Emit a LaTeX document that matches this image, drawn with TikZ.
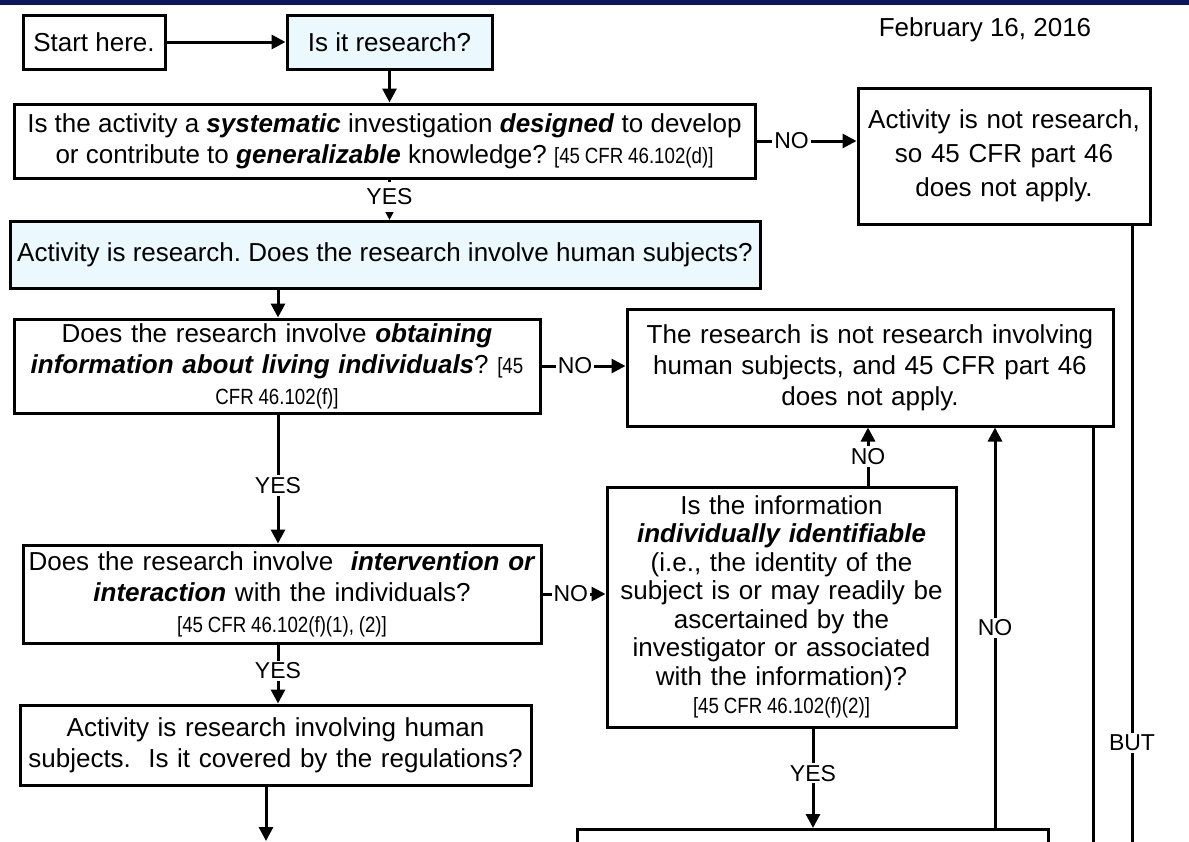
\documentclass[tikz,border=0pt]{standalone}
\usepackage{fontspec}
\setmainfont{Liberation Sans}
\newfontfamily\refnarrow[FakeStretch=0.85]{Liberation Sans}
\usetikzlibrary{arrows.meta,positioning}
\definecolor{navybar}{RGB}{14,22,92}
\colorlet{colorAsk}{cyan!8!white}
\frenchspacing
\newcommand{\bi}[1]{\textbf{\textit{#1}}}
\newcommand{\cfr}[1]{{\refnarrow\fontsize{22}{26}\selectfont\spaceskip=0.22em #1}}
\tikzset{
   every path/.style={>={Triangle[width=14pt,length=14pt]}},
   box/.style={draw, line width=3pt, inner sep=3pt, align=center, font=\fontsize{26}{31}\selectfont},
   ask/.style={box, fill=colorAsk},
   flow/.style={->, line width=3pt},
   link/.style={line width=3pt},
   tag/.style={fill=white, inner sep=2pt, font=\fontsize{23}{26}\selectfont},
}

\begin{document}
\begin{tikzpicture}[x=1pt,y=-1pt]
\clip (0,0) rectangle (1189,841);
\fill[white] (0,0) rectangle (1189,841);
\fill[navybar] (0,0) rectangle (1189,5);
\node[font=\fontsize{26}{30}\selectfont] (date) at (985,30) {February 16, 2016};

% top row
\node[box, minimum width=142pt, minimum height=54pt] (start) at (94,42) {Start here.};
\node[ask, minimum width=205pt, minimum height=54pt] (isres) at (389.5,42) {Is it research?};
\node[box, minimum width=741pt, minimum height=74pt] (sysq) at (384.5,141) {Is the activity a \bi{systematic} investigation \bi{designed} to develop\\ or contribute to \bi{generalizable} knowledge? \cfr{[45 CFR 46.102(d)]}};
\node[box, minimum width=292pt, minimum height=136pt, text width=280pt, font=\fontsize{26}{34}\selectfont] (notres) at (1004,156) {Activity is not research,\\ so 45 CFR part 46\\ does not apply.};

% human subjects
\node[ask, minimum width=750pt, minimum height=67pt] (humq) at (385,255) {Activity is research. Does the research involve human subjects?};
\node[box, minimum width=526pt, minimum height=94pt, text width=516pt] (obtq) at (277,366) {Does the research involve \bi{obtaining}\\ \bi{information about living individuals}? \cfr{[45}\\ \cfr{CFR 46.102(f)]}};
\node[box, minimum width=486pt, minimum height=117pt, text width=476pt] (nohs) at (870,367.5) {The research is not research involving\\ human subjects, and 45 CFR part 46\\ does not apply.};
\node[box, minimum width=518pt, minimum height=98pt, text width=512pt] (intq) at (282,594) {Does the research involve \ \bi{intervention or}\\ \bi{interaction} with the individuals?\\ \cfr{[45 CFR 46.102(f)(1), (2)]}};
\node[box, minimum width=511pt, minimum height=80pt, text width=501pt] (covq) at (275.5,745) {Activity is research involving human\\ subjects.\ \ Is it covered by the regulations?};
\node[box, minimum width=349pt, minimum height=240pt, text width=340pt, font=\fontsize{26}{28.5}\selectfont] (ident) at (781.5,607) {Is the information\\ \bi{individually identifiable}\\ (i.e., the identity of the\\ subject is or may readily be\\ ascertained by the\\ investigator or associated\\ with the information)?\\ \cfr{[45 CFR 46.102(f)(2)]}};
\node[box, minimum width=471pt, minimum height=80pt, anchor=north] (nextq) at (812.5,828) {};

\coordinate (covend) at (266,841);
\coordinate (nhend) at (1093,860);
\coordinate (butend) at (1132,860);

% connectors
\draw[flow] (start) -- (isres);
\draw[flow] (isres.south) -- (isres.south |- sysq.north);
\draw[flow] (sysq.east) -- (sysq.east -| notres.west) node[tag, pos=0.35] {NO};
\draw[flow] (sysq.south -| isres) -- (isres |- humq.north) node[tag, minimum height=30pt, pos=0.42] {YES};
\draw[flow] (humq.south -| 278,0) -- (278,0 |- obtq.north);
\draw[flow] (obtq.east) -- (obtq.east -| nohs.west) node[tag, pos=0.4] {NO};
\draw[flow] (obtq.south -| 278,0) -- (278,0 |- intq.north) node[tag, pos=0.55] {YES};
\draw[flow] (intq.east) -- (intq.east -| ident.west) node[tag, pos=0.45] {NO};
\draw[flow] (intq.south -| 278,0) -- (278,0 |- covq.north) node[tag, pos=0.45] {YES};
\draw[flow] (covq.south -| covend) -- (covend);
\draw[flow] (ident.north -| 868,0) -- (868,0 |- nohs.south) node[tag, midway] {NO};
\draw[flow] (ident.south -| 813,0) -- (813,0 |- nextq.north) node[tag, pos=0.45] {YES};
\draw[flow] (nextq.north -| 995,0) -- (995,0 |- nohs.south) node[tag, midway] {NO};
\draw[link] (nohs.south -| nhend) -- (nhend);
\draw[link] (notres.south -| butend) -- (butend) node[tag, pos=0.815] {BUT};
\end{tikzpicture}
\end{document}
